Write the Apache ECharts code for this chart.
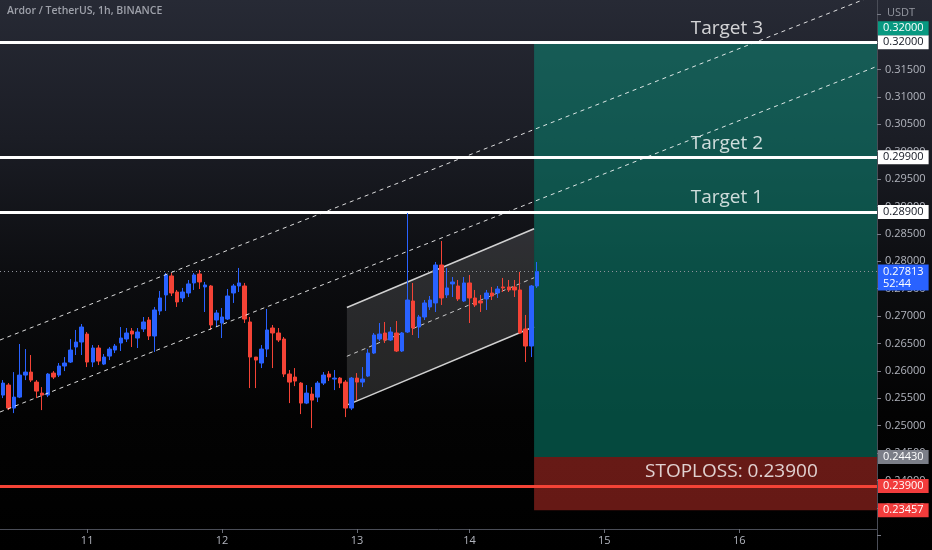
<!DOCTYPE html>
<html>
<head>
<meta charset="utf-8">
<script src="https://cdn.jsdelivr.net/npm/echarts@6/dist/echarts.min.js"></script>
<style>
html,body{margin:0;padding:0;background:#000;}
#chart{width:932px;height:550px;}
</style>
</head>
<body>
<div id="chart"></div>
<script>
// ---------- data ----------
const slotCount = 156;                       // hourly slots shown on the time axis
const dayTickIndex = [15, 39, 63, 83, 107, 131];
const dayTickLabel = ['11', '12', '13', '14', '15', '16'];

const open = [0.25559,0.25742,0.25322,0.25522,0.25924,0.25979,0.25796,0.25595,0.25559,0.25961,
0.25924,0.26089,0.26162,0.26436,0.26527,0.26673,0.26162,0.26418,0.26125,0.26271,
0.26381,0.26509,0.26582,0.26728,0.26600,0.26765,0.26929,0.26637,0.27094,0.27386,
0.27733,0.27440,0.27331,0.27422,0.27605,0.27769,0.27532,0.27550,0.26929,0.26874,
0.26947,0.27422,0.27550,0.27550,0.26893,0.26253,0.26144,0.26399,0.26783,0.26692,
0.26582,0.25943,0.25888,0.25778,0.25413,0.25577,0.25522,0.25778,0.25943,0.25851,
0.25869,0.25796,0.25322,0.25869,0.25796,0.25906,0.26326,0.26582,0.26692,0.26564,
0.26692,0.26363,0.26710,0.27276,0.26801,0.26984,0.27167,0.27240,0.27933,0.27386,
0.27587,0.27550,0.27276,0.27605,0.27331,0.27276,0.27313,0.27422,0.27422,0.27532,
0.27532,0.27532,0.27477,0.26765,0.26454,0.27550];
const close = [0.25778,0.25322,0.25522,0.25924,0.25979,0.25833,0.25632,0.25559,0.25943,0.25888,
0.26089,0.26144,0.26381,0.26527,0.26801,0.26162,0.26418,0.26180,0.26253,0.26399,
0.26454,0.26600,0.26692,0.26673,0.26710,0.26893,0.26637,0.27112,0.27331,0.27751,
0.27422,0.27258,0.27440,0.27587,0.27751,0.27623,0.27568,0.26838,0.27057,0.26984,
0.27367,0.27550,0.27605,0.26947,0.26253,0.26198,0.26399,0.26747,0.26692,0.26564,
0.25943,0.25796,0.25815,0.25413,0.25595,0.25467,0.25778,0.25924,0.25888,0.25869,
0.25778,0.25322,0.25869,0.25796,0.25851,0.26326,0.26655,0.26673,0.26564,0.26710,
0.26363,0.26692,0.27294,0.26783,0.26984,0.27240,0.27294,0.27933,0.27331,0.27514,
0.27623,0.27313,0.27605,0.27331,0.27203,0.27240,0.27422,0.27367,0.27495,0.27514,
0.27477,0.27477,0.26692,0.26454,0.27550,0.27813];
const low = [0.25504,0.25285,0.25230,0.25504,0.25833,0.25796,0.25504,0.25285,0.25522,0.25851,
0.25888,0.25997,0.26144,0.26290,0.26290,0.26070,0.26070,0.26107,0.26107,0.26198,
0.26326,0.26363,0.26527,0.26436,0.26418,0.26710,0.26564,0.26345,0.27021,0.27094,
0.27367,0.27167,0.27258,0.27349,0.27477,0.27495,0.27075,0.26747,0.26801,0.26600,
0.26929,0.27240,0.27440,0.26874,0.25687,0.25687,0.26052,0.26253,0.26052,0.26527,
0.25888,0.25413,0.25723,0.25212,0.25394,0.24957,0.25431,0.25742,0.25815,0.25650,
0.25687,0.25157,0.25285,0.25467,0.25705,0.25888,0.26308,0.26546,0.26509,0.26546,
0.26345,0.26345,0.26692,0.26655,0.26600,0.26929,0.27112,0.27075,0.27203,0.27331,
0.27349,0.27276,0.27258,0.26874,0.27167,0.27075,0.27112,0.27294,0.27331,0.27440,
0.27440,0.27349,0.26673,0.26162,0.26253,0.27514];
const high = [0.25833,0.25778,0.25979,0.26491,0.26399,0.26290,0.25833,0.25705,0.25961,0.25997,
0.26144,0.26253,0.26582,0.26747,0.26856,0.26710,0.26472,0.26472,0.26308,0.26436,
0.26491,0.26801,0.26783,0.26783,0.26783,0.26984,0.26984,0.27167,0.27459,0.27787,
0.27787,0.27477,0.27514,0.27659,0.27787,0.27842,0.27623,0.27568,0.27112,0.27148,
0.27495,0.27587,0.27879,0.27605,0.26984,0.26253,0.26472,0.27130,0.26838,0.26783,
0.26619,0.26016,0.26052,0.25796,0.25742,0.25705,0.25815,0.25979,0.25997,0.26016,
0.25888,0.25833,0.25888,0.25961,0.26070,0.26399,0.26692,0.26874,0.26893,0.26801,
0.26911,0.26710,0.28882,0.27605,0.27021,0.27294,0.27367,0.27988,0.28371,0.27879,
0.27714,0.27659,0.27714,0.27751,0.27477,0.27386,0.27477,0.27532,0.27550,0.27696,
0.27659,0.27659,0.27806,0.27021,0.27568,0.27988];

const targetLevels = [0.32, 0.299, 0.289];
const targetNames = ['Target 3', 'Target 2', 'Target 1'];
const stopLevel = 0.239;
const stopName = 'STOPLOSS: 0.23900';
const entryLevel = 0.2443;
const stopBoxBottom = 0.23457;
const lastPrice = 0.27813;
const countdown = '52:44';
const positionStartX = 95;          // in slot units
const annotationX = [129.3, 130.1]; // target texts, stoploss text

const channelX = [61.7, 95];
const channelUpper = [0.27157, 0.28595];
const channelLower = [0.25376, 0.26807];

const trendX = [0, 156];
const trendUpper = [0.26564, 0.32873];
const trendLower = [0.25250, 0.31559];

// ---------- chart ----------
const FONT = "'Open Sans', 'Noto Sans', sans-serif";
const categories = Array.from({length: slotCount}, (_, i) => 'h' + i);
const candles = open.map((o, i) => [o, close[i], low[i], high[i]]);

function badge(value, text, bg, fg) {
  return {
    yAxis: value,
    lineStyle: {width: 0, color: 'rgba(0,0,0,0)'},
    label: {
      show: true, position: 'end', distance: 1,
      formatter: text, backgroundColor: bg, color: fg,
      fontSize: 11, fontFamily: FONT, lineHeight: 12,
      padding: [1, 5, 1, 5]
    }
  };
}

const chart = echarts.init(document.getElementById('chart'));
chart.setOption({
  animation: false,
  backgroundColor: new echarts.graphic.LinearGradient(0, 0, 0, 1, [
    {offset: 0, color: '#272a35'},
    {offset: 0.25, color: '#1b1d25'},
    {offset: 0.5, color: '#0c0d10'},
    {offset: 0.75, color: '#030303'},
    {offset: 1, color: '#000000'}
  ]),
  textStyle: {fontFamily: FONT},
  title: {
    text: 'Ardor / TetherUS, 1h, BINANCE',
    left: 7, top: 6, padding: 0,
    textStyle: {color: '#9ea1aa', fontSize: 10.5, fontWeight: 600, fontFamily: FONT}
  },
  graphic: [{
    type: 'text', right: 17, top: 7,
    style: {text: 'USDT', fill: '#9598a1', font: '11px ' + FONT}
  }],
  grid: [
    {left: 0, right: 55, top: -12.66, bottom: -12.7, outerBoundsMode: 'none', containLabel: false},
    {left: 0, right: 55, top: 0, bottom: 21, outerBoundsMode: 'none', containLabel: false}
  ],
  xAxis: [
    {type: 'category', gridIndex: 0, data: categories, boundaryGap: true, show: false,
      axisLine: {onZero: false}},
    {type: 'value', gridIndex: 0, min: 0, max: slotCount, show: false,
      axisLine: {onZero: false}},
    {
      type: 'category', gridIndex: 1, data: categories, boundaryGap: true, position: 'bottom',
      axisLine: {show: true, onZero: false, lineStyle: {color: '#4a4d57', width: 1}},
      axisTick: {show: true, alignWithLabel: true, length: 4,
        interval: (i) => dayTickIndex.includes(i), lineStyle: {color: '#6a6d77'}},
      axisLabel: {
        interval: (i) => dayTickIndex.includes(i),
        formatter: (v, i) => { const k = dayTickIndex.indexOf(i); return k >= 0 ? dayTickLabel[k] : ''; },
        color: '#b2b5be', fontSize: 11, margin: 6, fontFamily: FONT
      },
      splitLine: {show: false}
    }
  ],
  yAxis: [
    {
      type: 'value', gridIndex: 0, position: 'right',
      min: 0.225, max: 0.33, interval: 0.005,
      axisLine: {show: true, onZero: false, lineStyle: {color: '#4a4d57'}},
      axisTick: {show: true, length: 4, lineStyle: {color: '#787b86'}},
      axisLabel: {
        color: '#b2b5be', fontSize: 11, margin: 8, fontFamily: FONT,
        formatter: (v) => (v < 0.2325 || v > 0.3225) ? '' : v.toFixed(5)
      },
      splitLine: {show: false}
    },
    {type: 'value', gridIndex: 1, min: 0, max: 1, show: false, axisLine: {onZero: false}}
  ],
  series: [
    {
      name: 'channel', type: 'custom', xAxisIndex: 1, yAxisIndex: 0, z: 1, silent: true,
      data: [[channelX[0], channelUpper[0], channelLower[0], channelX[1], channelUpper[1], channelLower[1]]],
      encode: {x: [0, 3], y: [1, 2, 4, 5]},
      renderItem: (params, api) => {
        const u0 = api.coord([api.value(0), api.value(1)]);
        const l0 = api.coord([api.value(0), api.value(2)]);
        const u1 = api.coord([api.value(3), api.value(4)]);
        const l1 = api.coord([api.value(3), api.value(5)]);
        const m0 = [(u0[0] + l0[0]) / 2, (u0[1] + l0[1]) / 2];
        const m1 = [(u1[0] + l1[0]) / 2, (u1[1] + l1[1]) / 2];
        return {type: 'group', children: [
          {type: 'polygon', shape: {points: [u0, u1, l1, l0]}, style: {fill: 'rgba(255,255,255,0.13)'}},
          {type: 'line', shape: {x1: u0[0], y1: u0[1], x2: u1[0], y2: u1[1]}, style: {stroke: 'rgba(230,230,230,0.9)', lineWidth: 1.5}},
          {type: 'line', shape: {x1: l0[0], y1: l0[1], x2: l1[0], y2: l1[1]}, style: {stroke: 'rgba(230,230,230,0.9)', lineWidth: 1.5}},
          {type: 'line', shape: {x1: m0[0], y1: m0[1], x2: m1[0], y2: m1[1]}, style: {stroke: 'rgba(255,255,255,0.75)', lineWidth: 1, lineDash: [4, 4]}}
        ]};
      }
    },
    {
      name: 'levels', type: 'line', xAxisIndex: 1, yAxisIndex: 0, z: 2, data: [],
      markLine: {
        silent: true, symbol: ['none', 'none'], animation: false, precision: 5,
        data: targetLevels.map(v => ({
          yAxis: v,
          lineStyle: {color: '#ffffff', width: 3, type: 'solid'},
          label: {show: true, position: 'end', distance: 1, formatter: v.toFixed(5),
            backgroundColor: '#ffffff', color: '#131722', fontSize: 11, fontFamily: FONT,
            lineHeight: 12, padding: [1, 5, 1, 5]}
        })).concat([{
          yAxis: lastPrice,
          lineStyle: {color: '#8f929b', width: 1, type: [1, 3]},
          label: {show: true, position: 'end', distance: 1,
            formatter: lastPrice.toFixed(5) + '\n' + countdown,
            backgroundColor: '#2962ff', color: '#ffffff', fontSize: 11, fontFamily: FONT,
            lineHeight: 12, padding: [1, 5, 1, 5], offset: [0, 6]}
        }])
      }
    },
    {
      name: 'position', type: 'line', xAxisIndex: 1, yAxisIndex: 0, z: 3, data: [],
      markArea: {
        silent: true, precision: 5,
        data: [
          [{coord: [positionStartX, targetLevels[0]], itemStyle: {color: 'rgba(8,153,129,0.47)'}},
           {coord: [slotCount, entryLevel]}],
          [{coord: [positionStartX, entryLevel], itemStyle: {color: 'rgba(242,60,50,0.42)'}},
           {coord: [slotCount, stopBoxBottom]}]
        ]
      }
    },
    {
      name: 'stop', type: 'line', xAxisIndex: 1, yAxisIndex: 0, z: 4, data: [],
      markLine: {
        silent: true, symbol: ['none', 'none'], animation: false, precision: 5,
        data: [
          {
            yAxis: stopLevel,
            lineStyle: {color: '#f44336', width: 3, type: 'solid'},
            label: {show: true, position: 'end', distance: 1, formatter: stopLevel.toFixed(5),
              backgroundColor: '#f23c3c', color: '#ffffff', fontSize: 11, fontFamily: FONT,
              lineHeight: 12, padding: [1, 5, 1, 5]}
          },
          badge(entryLevel, entryLevel.toFixed(5), '#7b7e88', '#ffffff'),
          badge(stopBoxBottom, stopBoxBottom.toFixed(5), '#f23c3c', '#ffffff'),
          (function () {
            const b = badge(targetLevels[0], targetLevels[0].toFixed(5), '#089981', '#ffffff');
            b.label.offset = [0, -14];
            return b;
          })()
        ]
      }
    },
    {
      name: 'ARDRUSDT', type: 'candlestick', xAxisIndex: 0, yAxisIndex: 0, z: 5,
      barWidth: 4,
      itemStyle: {color: '#2962ff', color0: '#f44336', borderColor: '#2962ff', borderColor0: '#f44336', borderWidth: 1},
      data: candles
    },
    {
      name: 'trendUpper', type: 'line', xAxisIndex: 1, yAxisIndex: 0, z: 6, symbol: 'none', silent: true,
      data: [[trendX[0], trendUpper[0]], [trendX[1], trendUpper[1]]],
      lineStyle: {color: 'rgba(255,255,255,0.85)', width: 1, type: [4, 4]}
    },
    {
      name: 'trendLower', type: 'line', xAxisIndex: 1, yAxisIndex: 0, z: 6, symbol: 'none', silent: true,
      data: [[trendX[0], trendLower[0]], [trendX[1], trendLower[1]]],
      lineStyle: {color: 'rgba(255,255,255,0.85)', width: 1, type: [4, 4]}
    },
    {
      name: 'notes', type: 'scatter', xAxisIndex: 1, yAxisIndex: 0, z: 7, silent: true,
      symbolSize: 1, itemStyle: {color: 'rgba(0,0,0,0)'},
      data: targetLevels.map((v, i) => ({value: [annotationX[0], v], name: targetNames[i]}))
        .concat([{value: [annotationX[1], stopLevel], name: stopName}]),
      label: {show: true, position: 'inside', offset: [0, -14], formatter: (p) => p.name,
        color: '#ffffff', fontSize: 19, fontFamily: FONT}
    }
  ]
});
</script>
</body>
</html>
